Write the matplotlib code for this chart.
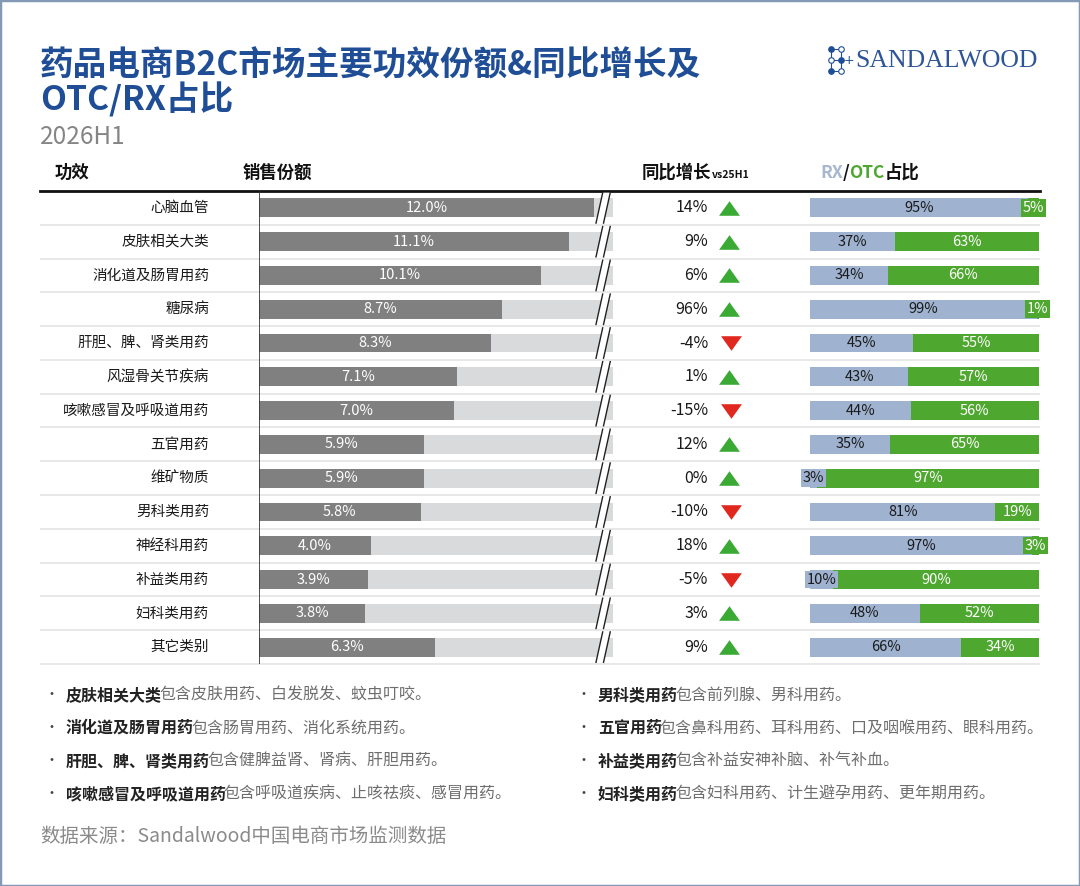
import matplotlib
matplotlib.use("Agg")
import matplotlib.pyplot as plt
from matplotlib.path import Path
from matplotlib.patches import Rectangle, Polygon
from matplotlib.lines import Line2D

plt.rcParams['font.family'] = ['Noto Sans CJK SC', 'DejaVu Sans']

# ---- data ----
categories = ['心脑血管', '皮肤相关大类', '消化道及肠胃用药', '糖尿病', '肝胆、脾、肾类用药',
              '风湿骨关节疾病', '咳嗽感冒及呼吸道用药', '五官用药', '维矿物质', '男科类用药',
              '神经科用药', '补益类用药', '妇科类用药', '其它类别']
share = [12.0, 11.1, 10.1, 8.7, 8.3, 7.1, 7.0, 5.9, 5.9, 5.8, 4.0, 3.9, 3.8, 6.3]
growth = [14, 9, 6, 96, -4, 1, -15, 12, 0, -10, 18, -5, 3, 9]
rx_pct = [95, 37, 34, 99, 45, 43, 44, 35, 3, 81, 97, 10, 48, 66]
otc_pct = [5, 63, 66, 1, 55, 57, 56, 65, 97, 19, 3, 90, 52, 34]

notes_left = [('皮肤相关大类', '包含皮肤用药、白发脱发、蚊虫叮咬。'),
              ('消化道及肠胃用药', '包含肠胃用药、消化系统用药。'),
              ('肝胆、脾、肾类用药', '包含健脾益肾、肾病、肝胆用药。'),
              ('咳嗽感冒及呼吸道用药', '包含呼吸道疾病、止咳祛痰、感冒用药。')]
notes_right = [('男科类用药', '包含前列腺、男科用药。'),
               ('五官用药', '包含鼻科用药、耳科用药、口及咽喉用药、眼科用药。'),
               ('补益类用药', '包含补益安神补脑、补气补血。'),
               ('妇科类用药', '包含妇科用药、计生避孕用药、更年期用药。')]

# ---- style ----
BLUE = '#1f4e96'
BAR_GRAY = '#808080'
TRACK = '#d9dadb'
RX_C = '#9fb3d1'
OTC_C = '#4ea72e'
UP_C = '#3aaa35'
DOWN_C = '#e0281f'
SEP = '#e4e4e4'

W, H = 1080, 886
fig = plt.figure(figsize=(W / 100, H / 100), dpi=100)
fig.patch.set_facecolor('white')


def fx(x):
    return x / W


def fy(y):
    return 1 - y / H


def add_ax(x0, x1, y0, y1):
    ax = fig.add_axes([fx(x0), fy(y1), (x1 - x0) / W, (y1 - y0) / H])
    ax.set_axis_off()
    ax.patch.set_alpha(0)
    return ax


renderer = fig.canvas.get_renderer()


def put_runs(x, y, runs, va='baseline', tighten=0):
    # 逐段写文字，每段接在上一段后面
    cur = fx(x)
    for txt, kw in runs:
        t = fig.text(cur, fy(y), txt, va=va, **kw)
        cur += (t.get_window_extent(renderer=renderer).width - tighten) / W
    return cur


n = len(categories)
rows = list(range(n))
TOP, BOT = 191, 664

# ---- title ----
fig.text(fx(40), fy(66), '药品电商B2C市场主要功效份额&同比增长及', fontsize=24.2,
         weight='bold', color=BLUE, va='center')
fig.text(fx(40), fy(100), 'OTC/RX占比', fontsize=24.2, weight='bold', color=BLUE, va='center')
fig.text(fx(40), fy(137), '2026H1', fontsize=17.5, color='#858585', va='center', weight='light')

# logo
lx = [831, 841]
ly = [49, 60, 71]
for x in lx:
    fig.add_artist(Line2D([fx(x), fx(x)], [fy(ly[0]), fy(ly[-1])], color=BLUE, lw=0.8))
for y in ly:
    fig.add_artist(Line2D([fx(lx[0]), fx(lx[1])], [fy(y), fy(y)], color=BLUE, lw=0.8))
filled = {(831, 49), (841, 60), (831, 71)}
for x in lx:
    for y in ly:
        fc = BLUE if (x, y) in filled else 'white'
        fig.add_artist(Line2D([fx(x)], [fy(y)], marker='o', ms=4, mfc=fc, mec=BLUE, mew=0.8))
fig.text(fx(849), fy(61), '+', fontsize=9, color=BLUE, ha='center', va='center', family='DejaVu Sans')
fig.text(fx(855), fy(61), 'SANDALWOOD', fontsize=18.5, color='#2e5597', va='center',
         family='Liberation Serif')

# ---- headers ----
hkw = dict(fontsize=12.5, weight='bold', color='#111111')
put_runs(55, 178, [('功效', hkw)])
put_runs(243, 178, [('销售份额', hkw)])
put_runs(642, 178, [('同比增长', hkw), ('vs25H1', dict(fontsize=7.5, weight='bold', color='#111111'))])
put_runs(820, 178, [('RX', dict(hkw, color='#a7b7cf')), ('/', hkw),
                    ('OTC', dict(hkw, color=OTC_C)), ('占比', hkw)])

# ---- table frame ----
tbl = add_ax(40, 1040, TOP, BOT)
tbl.set_xlim(40, 1040)
tbl.set_ylim(n - 0.5, -0.5)
tbl.hlines([r + 0.5 for r in rows], 40, 1040, color=SEP, lw=1.2, clip_on=False)
tbl.axhline(-0.5, color='#111111', lw=2, clip_on=False)

for r, cat in zip(rows, categories):
    tbl.text(209, r, cat, ha='right', va='center', fontsize=10.5, color='#1a1a1a')

# growth
for r, g in zip(rows, growth):
    tbl.text(708, r, f'{g}%', ha='right', va='center', fontsize=11.5, color='#1a1a1a')
up = Path([(-1, -0.7), (1, -0.7), (0, 0.7), (-1, -0.7)])
down = Path([(-1, 0.7), (1, 0.7), (0, -0.7), (-1, 0.7)])
up_rows = [r for r, g in zip(rows, growth) if g >= 0]
dn_rows = [r for r, g in zip(rows, growth) if g < 0]
tbl.scatter([729] * len(up_rows), up_rows, marker=up, s=15 ** 2, color=UP_C, lw=0)
tbl.scatter([731] * len(dn_rows), dn_rows, marker=down, s=15 ** 2, color=DOWN_C, lw=0)

# ---- share bars ----
PX_PER = 27.92
sax = add_ax(259, 625, TOP, BOT)
sax.set_xlim(0, (625 - 259) / PX_PER)
sax.set_ylim(n - 0.5, -0.5)
track = (613 - 259) / PX_PER
sax.barh(rows, [track] * n, height=0.56, color=TRACK, lw=0)
sax.barh(rows, share, height=0.56, color=BAR_GRAY, lw=0)
sax.axvline(0, color='#333333', lw=1.2)
for r, v in zip(rows, share):
    sax.text(v / 2, r, f'{v:.1f}%', ha='center', va='center', fontsize=10.5, color='white')

# 截断符号 //
b0, slant, gap, hh = 12.07, 0.24, 0.27, 0.45
for r in rows:
    xs = [b0, b0 + slant, b0 + gap + slant, b0 + gap]
    ys = [r + hh, r - hh, r - hh, r + hh]
    sax.add_patch(Polygon(list(zip(xs, ys)), closed=True, fc='white', ec='none'))
    sax.plot([b0, b0 + slant], [r + hh, r - hh], color='#222222', lw=1)
    sax.plot([b0 + gap, b0 + gap + slant], [r + hh, r - hh], color='#222222', lw=1)

# ---- RX / OTC ----
rax = add_ax(810, 1039, TOP, BOT)
rax.set_xlim(0, 100)
rax.set_ylim(n - 0.5, -0.5)
rax.barh(rows, rx_pct, height=0.56, color=RX_C, lw=0)
rax.barh(rows, otc_pct, left=rx_pct, height=0.56, color=OTC_C, lw=0)
for r, a, b in zip(rows, rx_pct, otc_pct):
    for left, v, col, tc in [(0, a, RX_C, '#1a1a1a'), (a, b, OTC_C, 'white')]:
        kw = dict(ha='center', va='center', fontsize=10.5, color=tc, clip_on=False)
        if v < 12:
            kw['bbox'] = dict(boxstyle='square,pad=0.12', fc=col, ec='none')
        rax.text(left + v / 2, r, f'{v}%', **kw)

# ---- notes ----
note_y = [695, 728, 761, 794]
for col_x, notes in [(66, notes_left), (598, notes_right)]:
    for y, (bold, rest) in zip(note_y, notes):
        fig.text(fx(col_x - 15), fy(y), '•', fontsize=10, color='#444444', ha='center', va='center')
        put_runs(col_x, y + 5, [(bold, dict(fontsize=11.5, weight='bold', color='#222222')),
                                (rest, dict(fontsize=11.5, color='#6e6e6e'))], tighten=3)

fig.text(fx(40), fy(836), '数据来源：Sandalwood中国电商市场监测数据', fontsize=14,
         color='#8a8a8a', va='center')

fig.add_artist(Rectangle((0, 0), 1, 1, transform=fig.transFigure, fill=False,
                         ec='#8499b5', lw=2.5))

fig.savefig('out.png', dpi=100)
